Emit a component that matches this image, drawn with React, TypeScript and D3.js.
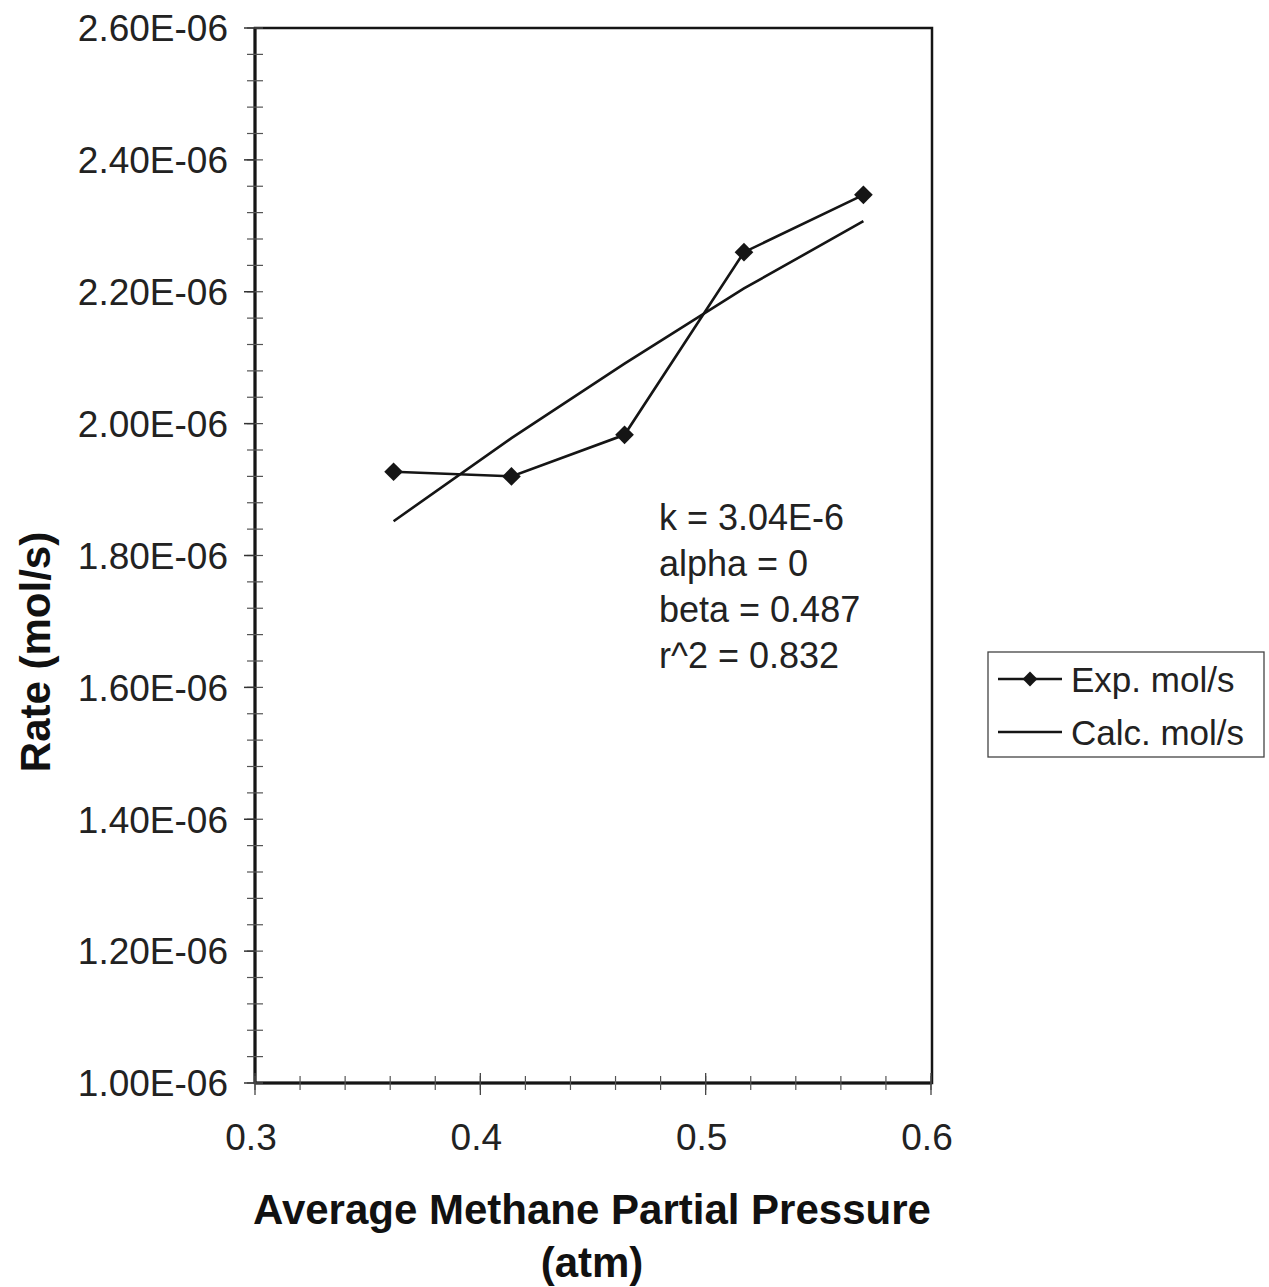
import React from "react";
import * as d3 from "d3";

const pressure = [0.3615, 0.4138, 0.464, 0.517, 0.57];
const expRate = [1.927e-6, 1.92e-6, 1.983e-6, 2.26e-6, 2.347e-6];
const calcRate = [1.852e-6, 1.978e-6, 2.091e-6, 2.205e-6, 2.307e-6];
const xTicks = [0.3, 0.4, 0.5, 0.6];
const xTickLabels = ["0.3", "0.4", "0.5", "0.6"];
const yTicks = [1.0e-6, 1.2e-6, 1.4e-6, 1.6e-6, 1.8e-6, 2.0e-6, 2.2e-6, 2.4e-6, 2.6e-6];
const yTickLabels = ["1.00E-06", "1.20E-06", "1.40E-06", "1.60E-06", "1.80E-06", "2.00E-06", "2.20E-06", "2.40E-06", "2.60E-06"];
const annotations = ["k = 3.04E-6", "alpha = 0", "beta = 0.487", "r^2 = 0.832"];
const legendLabels = ["Exp. mol/s", "Calc. mol/s"];

const W = 1269;
const H = 1287;
const L = 255, R = 932, T = 28, B = 1083;
const FONT = "'Liberation Sans', Arial, sans-serif";
const INK = "#151515";

export default function App() {
  const x = d3.scaleLinear().domain([0.3, 0.6]).range([L, R - 1]);
  const y = d3.scaleLinear().domain([1.0e-6, 2.6e-6]).range([B, T]);

  const xMinor = d3.range(0, 16).map((i) => 0.3 + i * 0.02);
  const yMinor = d3.range(0, 41).map((i) => 1.0e-6 + i * 0.04e-6);

  const line = d3
    .line<number>()
    .x((_, i) => x(pressure[i]))
    .y((d) => y(d));

  const diamond = d3.symbol().type(d3.symbolSquare).size(175)() || "";
  const legendDiamond = d3.symbol().type(d3.symbolSquare).size(110)() || "";

  return (
    <svg
      width={W}
      height={H}
      style={{ position: "absolute", left: 0, top: 0, background: "#fff" }}
      fontFamily={FONT}
    >
      <rect x={0} y={0} width={W} height={H} fill="#fff" />
      {/* plot frame */}
      <rect x={L} y={T} width={R - L} height={B - T} fill="none" stroke={INK} strokeWidth={2.5} />
      <line x1={L} x2={L} y1={T} y2={B} stroke={INK} strokeWidth={3} />
      <line x1={L} x2={R} y1={B} y2={B} stroke={INK} strokeWidth={3} />

      {/* y ticks */}
      {yMinor.map((v, i) => (
        <line key={"ym" + i} x1={L - 8} x2={L + 8} y1={y(v)} y2={y(v)} stroke="#555" strokeWidth={1.2} />
      ))}
      {yTicks.map((v, i) => (
        <g key={"yt" + i}>
          <line x1={L - 11} x2={L} y1={y(v)} y2={y(v)} stroke="#333" strokeWidth={1.5} />
          <text x={L - 27} y={y(v)} dy="0.36em" textAnchor="end" fontSize={37} fill="#222">
            {yTickLabels[i]}
          </text>
        </g>
      ))}

      {/* x ticks */}
      {xMinor.map((v, i) => (
        <line key={"xm" + i} x1={x(v)} x2={x(v)} y1={B - 7} y2={B + 7} stroke="#555" strokeWidth={1.2} />
      ))}
      {xTicks.map((v, i) => (
        <g key={"xt" + i}>
          <line x1={x(v)} x2={x(v)} y1={B - 10} y2={B + 12} stroke="#444" strokeWidth={1.3} />
          <text x={x(v) - 4} y={1150} textAnchor="middle" fontSize={37} fill="#222">
            {xTickLabels[i]}
          </text>
        </g>
      ))}

      {/* series */}
      <path d={line(calcRate) || ""} fill="none" stroke={INK} strokeWidth={2.6} />
      <path d={line(expRate) || ""} fill="none" stroke={INK} strokeWidth={2.6} />
      {expRate.map((v, i) => (
        <path
          key={"d" + i}
          d={diamond}
          transform={`translate(${x(pressure[i])},${y(v)}) rotate(45)`}
          fill={INK}
        />
      ))}

      {/* annotations */}
      {annotations.map((t, i) => (
        <text key={"a" + i} x={659} y={530 + i * 46} fontSize={36} fill="#222">
          {t}
        </text>
      ))}

      {/* axis titles */}
      <text x={592} y={1224} textAnchor="middle" fontSize={42} fontWeight="bold" fill="#111">
        Average Methane Partial Pressure
      </text>
      <text x={592} y={1277} textAnchor="middle" fontSize={42} fontWeight="bold" fill="#111">
        (atm)
      </text>
      <text
        transform={`translate(50,652) rotate(-90)`}
        textAnchor="middle"
        fontSize={42}
        fontWeight="bold"
        fill="#111"
      >
        Rate (mol/s)
      </text>

      {/* legend */}
      <rect x={988} y={652} width={276} height={105} fill="#fff" stroke="#444" strokeWidth={1.3} />
      <line x1={998} x2={1062} y1={679} y2={679} stroke={INK} strokeWidth={2.6} />
      <path d={legendDiamond} transform="translate(1030,679) rotate(45)" fill={INK} />
      <text x={1071} y={679} dy="0.36em" fontSize={35} fill="#222">
        {legendLabels[0]}
      </text>
      <line x1={998} x2={1062} y1={732} y2={732} stroke={INK} strokeWidth={2.6} />
      <text x={1071} y={732} dy="0.36em" fontSize={35} fill="#222">
        {legendLabels[1]}
      </text>
    </svg>
  );
}
